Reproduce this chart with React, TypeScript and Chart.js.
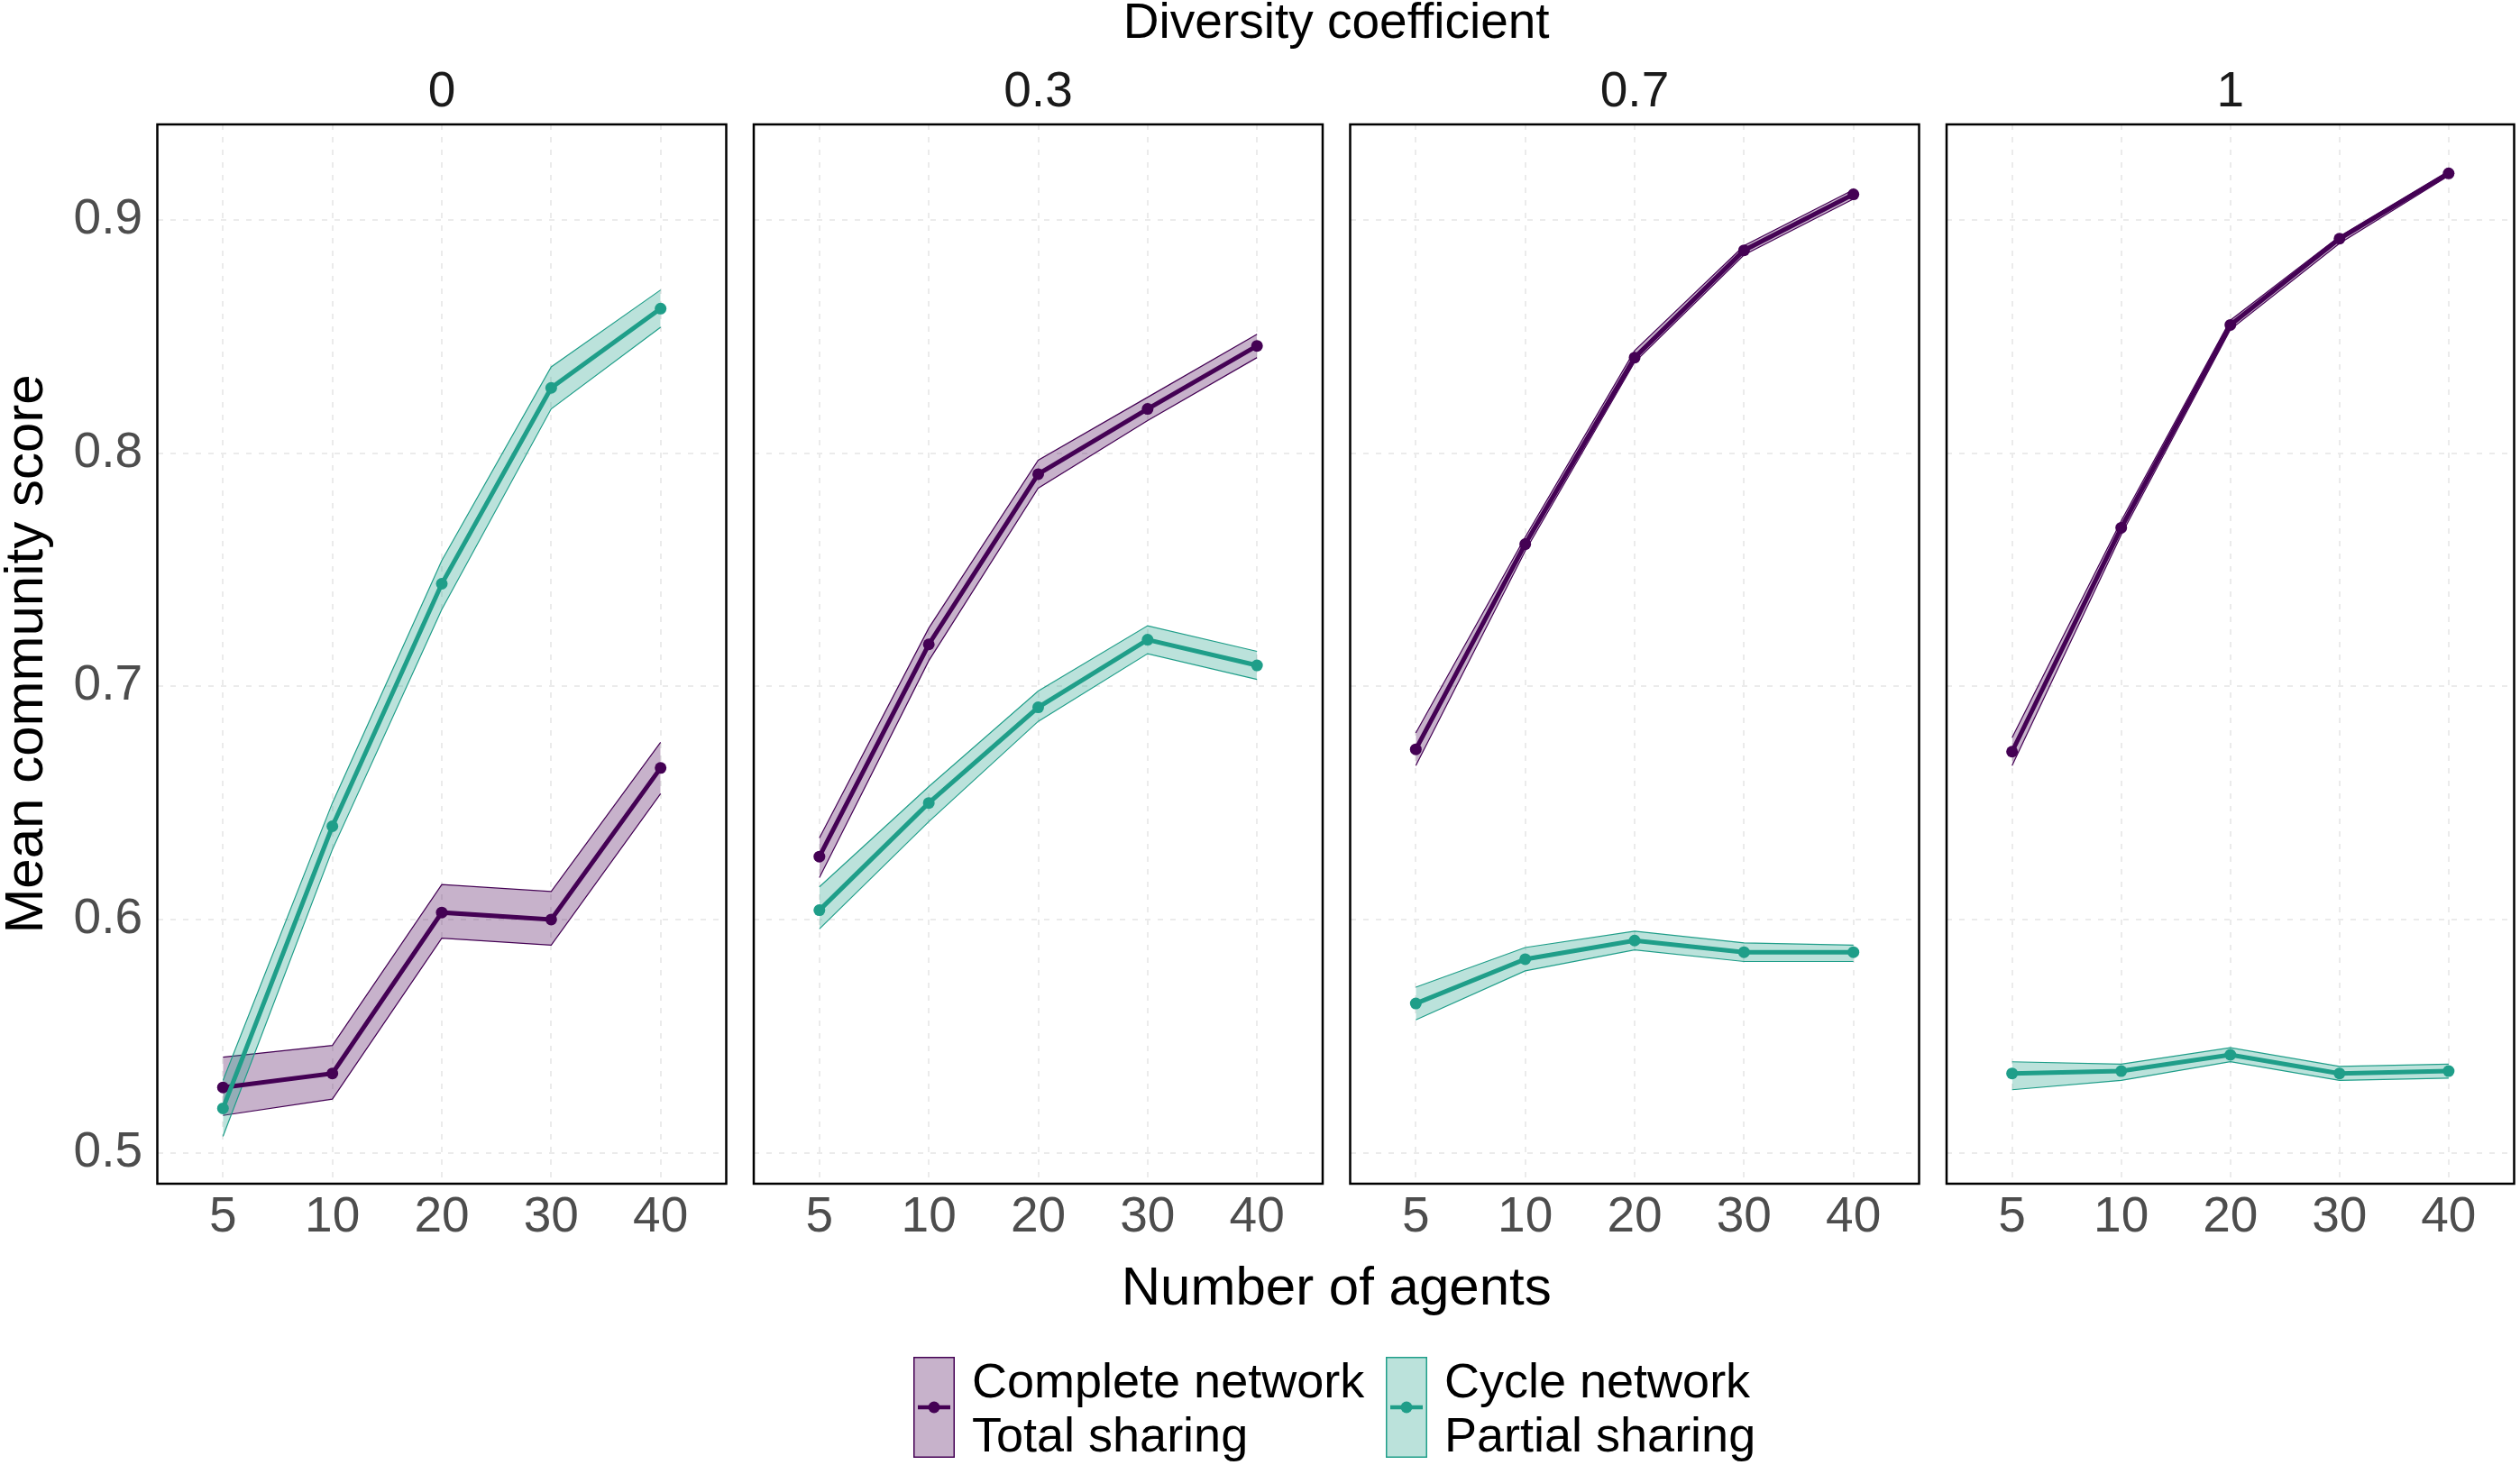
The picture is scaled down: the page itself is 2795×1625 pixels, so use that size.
import React, { useEffect, useRef } from 'react';
import { Chart, registerables } from 'chart.js';

Chart.register(...registerables);

// ---------- data ----------
const agents = ['5', '10', '20', '30', '40'];
const diversity = ['0', '0.3', '0.7', '1'];
const yTicks = [0.5, 0.6, 0.7, 0.8, 0.9];

// Complete network / Total sharing (one row per diversity panel)
const completeMean = [
  [0.528, 0.534, 0.603, 0.600, 0.665],
  [0.627, 0.718, 0.791, 0.819, 0.846],
  [0.673, 0.761, 0.841, 0.887, 0.911],
  [0.672, 0.768, 0.855, 0.892, 0.920],
];
const completeLow = [
  [0.516, 0.523, 0.592, 0.589, 0.654],
  [0.618, 0.711, 0.785, 0.814, 0.841],
  [0.666, 0.758, 0.839, 0.885, 0.909],
  [0.666, 0.765, 0.853, 0.890, 0.919],
];
const completeHigh = [
  [0.541, 0.546, 0.615, 0.612, 0.676],
  [0.635, 0.725, 0.797, 0.824, 0.851],
  [0.680, 0.764, 0.844, 0.889, 0.913],
  [0.678, 0.771, 0.857, 0.893, 0.921],
];

// Cycle network / Partial sharing
const cycleMean = [
  [0.519, 0.640, 0.744, 0.828, 0.862],
  [0.604, 0.650, 0.691, 0.720, 0.709],
  [0.564, 0.583, 0.591, 0.586, 0.586],
  [0.534, 0.535, 0.542, 0.534, 0.535],
];
const cycleLow = [
  [0.507, 0.630, 0.733, 0.819, 0.854],
  [0.596, 0.642, 0.685, 0.714, 0.703],
  [0.557, 0.578, 0.587, 0.582, 0.582],
  [0.527, 0.531, 0.539, 0.531, 0.532],
];
const cycleHigh = [
  [0.531, 0.650, 0.754, 0.837, 0.870],
  [0.614, 0.657, 0.698, 0.726, 0.715],
  [0.571, 0.588, 0.595, 0.590, 0.589],
  [0.539, 0.538, 0.545, 0.537, 0.538],
];

const seriesLabels = [
  ['Complete network', 'Total sharing'],
  ['Cycle network', 'Partial sharing'],
];

// ---------- layout / style ----------
const W = 2795;
const H = 1625;
const FONT = '"Liberation Sans", Arial, Helvetica, sans-serif';
const PURPLE = '#440154';
const PURPLE_FILL = 'rgba(68,1,84,0.3)';
const TEAL = '#1F9E89';
const TEAL_FILL = 'rgba(31,158,137,0.3)';
const PANEL_LEFT = [174.5, 836, 1497.5, 2159];
const PANEL_W = 631;
const PANEL_TOP = 138;
const PANEL_BOTTOM = 1313;
const X_AXIS_H = 100;
const Y_MIN = 0.4867;
const Y_MAX = 0.941;
const X_MIN = -0.6;
const X_MAX = 4.6;

const pts = (arr: number[]) => arr.map((y, i) => ({ x: i, y }));

const panelPlugin = (idx: number) => ({
  id: 'panelDecor' + idx,
  afterDraw(chart: any) {
    const { ctx, chartArea: a } = chart;
    ctx.save();
    ctx.strokeStyle = '#000000';
    ctx.lineWidth = 2.5;
    ctx.strokeRect(a.left, a.top, a.right - a.left, a.bottom - a.top);
    ctx.fillStyle = '#1A1A1A';
    ctx.font = `55px ${FONT}`;
    ctx.textAlign = 'center';
    ctx.textBaseline = 'alphabetic';
    ctx.fillText(diversity[idx], (a.left + a.right) / 2, 118);
    ctx.restore();
  },
});

const globalPlugin = {
  id: 'globalDecor',
  afterDraw(chart: any) {
    const ctx = chart.ctx;
    const cx = (PANEL_LEFT[0] + PANEL_LEFT[3] + PANEL_W) / 2;
    ctx.save();
    ctx.fillStyle = '#000000';
    ctx.textAlign = 'center';
    ctx.textBaseline = 'alphabetic';
    ctx.font = `55px ${FONT}`;
    ctx.fillText('Diversity coefficient', cx, 42);
    ctx.font = `60px ${FONT}`;
    ctx.fillText('Number of agents', cx, 1447);
    ctx.save();
    ctx.translate(47, (PANEL_TOP + PANEL_BOTTOM) / 2);
    ctx.rotate(-Math.PI / 2);
    ctx.fillText('Mean community score', 0, 0);
    ctx.restore();

    // legend
    const items = [
      { label: seriesLabels[0], color: PURPLE, fill: PURPLE_FILL, x: 1013 },
      { label: seriesLabels[1], color: TEAL, fill: TEAL_FILL, x: 1537 },
    ];
    const boxW = 46;
    const boxTop = 1505;
    const boxBottom = 1617;
    items.forEach((it) => {
      ctx.fillStyle = it.fill;
      ctx.fillRect(it.x, boxTop, boxW, boxBottom - boxTop);
      ctx.strokeStyle = it.color;
      ctx.lineWidth = 1.5;
      ctx.strokeRect(it.x + 0.75, boxTop + 0.75, boxW - 1.5, boxBottom - boxTop - 1.5);
      const my = (boxTop + boxBottom) / 2;
      ctx.strokeStyle = it.color;
      ctx.lineWidth = 4.5;
      ctx.beginPath();
      ctx.moveTo(it.x + 5, my);
      ctx.lineTo(it.x + boxW - 5, my);
      ctx.stroke();
      ctx.fillStyle = it.color;
      ctx.beginPath();
      ctx.arc(it.x + boxW / 2, my, 6.5, 0, Math.PI * 2);
      ctx.fill();
      ctx.fillStyle = '#000000';
      ctx.textAlign = 'left';
      ctx.font = `54px ${FONT}`;
      ctx.fillText(it.label[0], it.x + 65, 1550);
      ctx.fillText(it.label[1], it.x + 65, 1610);
    });
    ctx.restore();
  },
};

function buildChart(canvas: HTMLCanvasElement, idx: number) {
  const ribbon = (low: number[], high: number[], color: string, fill: string, order: number) => [
    {
      data: pts(high),
      borderColor: color,
      borderWidth: 1.2,
      pointRadius: 0,
      fill: false,
      tension: 0,
      order,
    },
    {
      data: pts(low),
      borderColor: color,
      borderWidth: 1.2,
      backgroundColor: fill,
      pointRadius: 0,
      fill: '-1',
      tension: 0,
      order,
    },
  ];
  const meanLine = (vals: number[], color: string, order: number) => ({
    data: pts(vals),
    borderColor: color,
    backgroundColor: color,
    borderWidth: 5,
    pointRadius: 6.5,
    pointBorderWidth: 0,
    pointBackgroundColor: color,
    fill: false,
    tension: 0,
    order,
  });

  const datasets: any[] = [
    ...ribbon(completeLow[idx], completeHigh[idx], PURPLE, PURPLE_FILL, 4),
    ...ribbon(cycleLow[idx], cycleHigh[idx], TEAL, TEAL_FILL, 3),
    meanLine(completeMean[idx], PURPLE, 2),
    meanLine(cycleMean[idx], TEAL, 1),
  ];

  const left = PANEL_LEFT[idx];
  const right = left + PANEL_W;
  const gridOpts = { color: '#EBEBEB', lineWidth: 2, drawTicks: false };
  const tickFont = { family: FONT, size: 55, lineHeight: 1 };

  return new Chart(canvas, {
    type: 'line',
    data: { datasets },
    options: {
      animation: false,
      responsive: false,
      devicePixelRatio: 1,
      events: [],
      layout: {
        padding: {
          left: idx === 0 ? 0 : left,
          right: W - right,
          top: PANEL_TOP,
          bottom: H - PANEL_BOTTOM - X_AXIS_H,
        },
      },
      plugins: {
        legend: { display: false },
        tooltip: { enabled: false },
        title: { display: false },
      },
      scales: {
        x: {
          type: 'linear',
          min: X_MIN,
          max: X_MAX,
          bounds: 'data',
          afterBuildTicks: (s: any) => {
            s.ticks = agents.map((_, i) => ({ value: i }));
          },
          afterFit: (s: any) => {
            s.height = X_AXIS_H;
          },
          ticks: {
            autoSkip: false,
            maxRotation: 0,
            padding: 10,
            color: '#4D4D4D',
            font: tickFont,
            callback: (v: any) => agents[v],
          },
          grid: gridOpts,
          border: { display: false, dash: [6, 8] },
        },
        y: {
          type: 'linear',
          min: Y_MIN,
          max: Y_MAX,
          bounds: 'data',
          afterBuildTicks: (s: any) => {
            s.ticks = yTicks.map((v) => ({ value: v }));
          },
          afterFit: (s: any) => {
            s.width = idx === 0 ? PANEL_LEFT[0] : 0;
          },
          ticks: {
            display: idx === 0,
            padding: 16.5,
            color: '#4D4D4D',
            font: tickFont,
            callback: (v: any) => Number(v).toFixed(1),
          },
          grid: gridOpts,
          border: { display: false, dash: [6, 8] },
        },
      },
    } as any,
    plugins: idx === 0 ? [panelPlugin(idx), globalPlugin] : [panelPlugin(idx)],
  });
}

export default function App() {
  const refs = useRef<(HTMLCanvasElement | null)[]>([]);

  useEffect(() => {
    const charts = diversity.map((_, i) => buildChart(refs.current[i] as HTMLCanvasElement, i));
    return () => {
      charts.forEach((c) => c.destroy());
    };
  }, []);

  return (
    <div
      style={{
        position: 'absolute',
        left: 0,
        top: 0,
        width: W,
        height: H,
        background: '#ffffff',
        overflow: 'hidden',
      }}
    >
      {diversity.map((d, i) => (
        <canvas
          key={d}
          ref={(el) => {
            refs.current[i] = el;
          }}
          width={W}
          height={H}
          style={{ position: 'absolute', left: 0, top: 0, width: W, height: H }}
        />
      ))}
    </div>
  );
}
